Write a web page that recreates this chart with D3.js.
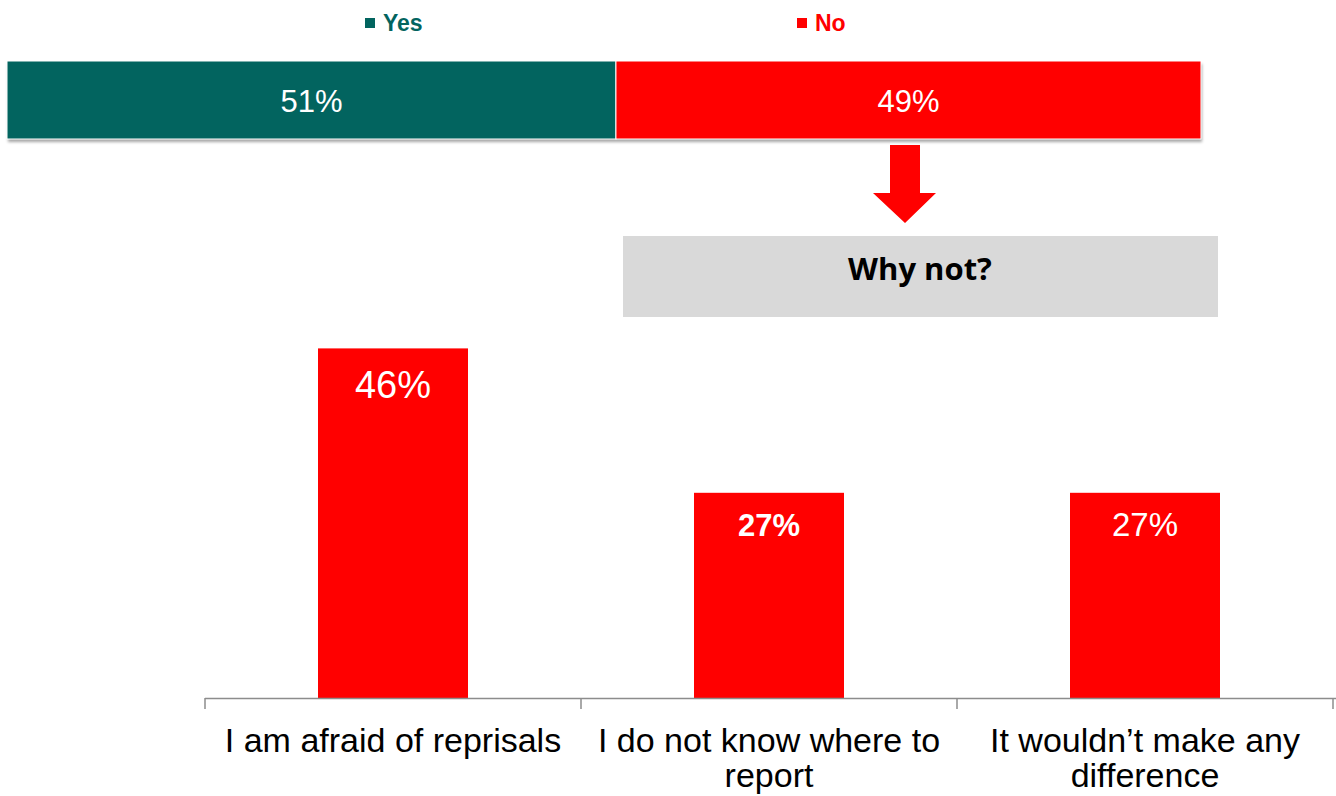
<!DOCTYPE html>
<html><head><meta charset="utf-8">
<script src="https://cdn.jsdelivr.net/npm/d3@7"></script>
<style>body{margin:0;background:#fff;} svg{display:block;}</style>
</head><body>
<script>
const topCategories = ["Yes", "No"];
const topValues = [51, 49];
const topColors = ["#02645f", "#ff0000"];
const reasonCategories = [["I am afraid of reprisals"], ["I do not know where to", "report"], ["It wouldn\u2019t make any", "difference"]];
const reasonValues = [46, 27, 27];
const reasonLabelBold = [false, true, false];
const reasonLabelSize = [38, 31, 33];
const headline = "Why not?";

const W = 1336, H = 796;
const svg = d3.select("body").append("svg").attr("width", W).attr("height", H);
const defs = svg.append("defs");
const f = defs.append("filter").attr("id","sh").attr("x","-5%").attr("y","-20%").attr("width","110%").attr("height","160%");
f.append("feDropShadow").attr("dx",1).attr("dy",3).attr("stdDeviation",1.5).attr("flood-color","#000").attr("flood-opacity",0.35);

// Top stacked bar
const xTop = d3.scaleLinear().domain([0, 100]).range([7, 1201]);
let cum = 0;
const stack = topValues.map((v, i) => { const d = {cat: topCategories[i], v, x0: cum, x1: cum + v, color: topColors[i]}; cum += v; return d; });
const gTop = svg.append("g");
gTop.append("rect").attr("x", xTop(0)).attr("y", 61).attr("width", xTop(100) - xTop(0)).attr("height", 78)
  .attr("fill", "#fff").attr("filter", "url(#sh)");
gTop.selectAll("rect.seg").data(stack).join("rect").attr("class","seg")
  .attr("x", d => xTop(d.x0)).attr("y", 61).attr("width", d => xTop(d.x1) - xTop(d.x0)).attr("height", 78)
  .attr("fill", d => d.color).attr("stroke", "#fff").attr("stroke-width", 1);
gTop.selectAll("text.val").data(stack).join("text").attr("class","val")
  .attr("x", d => xTop((d.x0 + d.x1) / 2)).attr("y", 101).attr("dy", "0.35em")
  .attr("text-anchor", "middle").attr("fill", "#fff")
  .style("font-family", "'Liberation Sans', Arial, sans-serif").style("font-size", "31px")
  .text(d => d.v + "%");

// Legend
const legX = [365, 797];
const leg = svg.append("g").selectAll("g").data(stack).join("g")
  .attr("transform", (d, i) => `translate(${legX[i]},23)`);
leg.append("rect").attr("x", 0).attr("y", -5).attr("width", 10).attr("height", 10).attr("fill", d => d.color);
leg.append("text").attr("x", 18).attr("y", 0).attr("dy", "0.35em").attr("fill", d => d.color)
  .style("font-family", "'Liberation Sans', Arial, sans-serif").style("font-size", "23px").style("font-weight", "bold")
  .text(d => d.cat);

// Arrow
svg.append("path").attr("d", "M890,145 L920,145 L920,193 L936,193 L905,223 L873,193 L890,193 Z").attr("fill", "#ff0000");

// Why not box
svg.append("rect").attr("x", 623).attr("y", 236).attr("width", 595).attr("height", 81).attr("fill", "#d9d9d9");
svg.append("text").attr("x", 920).attr("y", 269).attr("dy", "0.35em").attr("text-anchor", "middle")
  .style("font-family", "'Open Sans', 'Noto Sans', sans-serif").style("font-size", "31px").style("font-weight", "bold")
  .attr("fill", "#000").text(headline);

// Bottom bar chart
const xb = d3.scaleBand().domain(d3.range(reasonValues.length)).range([205, 1333]);
const y = d3.scaleLinear().domain([0, 50]).range([698, 318]);

svg.selectAll("rect.bar").data(reasonValues).join("rect").attr("class","bar")
  .attr("x", (d, i) => xb(i) + xb.bandwidth()/2 - 75).attr("width", 150)
  .attr("y", d => y(d)).attr("height", d => y(0) - y(d)).attr("fill", "#ff0000");

svg.selectAll("text.bl").data(reasonValues).join("text").attr("class","bl")
  .attr("x", (d, i) => xb(i) + xb.bandwidth()/2).attr("y", (d, i) => y(d) + (i === 0 ? 36 : 32)).attr("dy", "0.35em")
  .attr("text-anchor", "middle").attr("fill", "#fff")
  .style("font-family", "'Liberation Sans', Arial, sans-serif")
  .style("font-size", (d, i) => reasonLabelSize[i] + "px")
  .style("font-weight", (d, i) => reasonLabelBold[i] ? "bold" : "normal")
  .text(d => d + "%");

// axis
const ax = svg.append("g");
ax.append("line").attr("x1", 205).attr("x2", W).attr("y1", 698.5).attr("y2", 698.5).attr("stroke", "#8c8c8c").attr("stroke-width", 1.5);
const tickXs = d3.range(reasonValues.length + 1).map(i => i < reasonValues.length ? xb(i) : xb(i - 1) + xb.bandwidth());
ax.selectAll("line.t").data(tickXs).join("line").attr("class","t")
  .attr("x1", d => d).attr("x2", d => d).attr("y1", 698).attr("y2", 709).attr("stroke", "#8c8c8c").attr("stroke-width", 1.5);
const cl = svg.selectAll("text.cat").data(reasonCategories).join("text").attr("class","cat")
  .attr("text-anchor", "middle").attr("fill", "#000")
  .style("font-family", "'Liberation Sans', Arial, sans-serif").style("font-size", "34px");
cl.each(function(lines, i) {
  d3.select(this).selectAll("tspan").data(lines).join("tspan")
    .attr("x", xb(i) + xb.bandwidth()/2).attr("y", (d, j) => 752 + j * 35).text(d => d);
});
</script>
</body></html>
